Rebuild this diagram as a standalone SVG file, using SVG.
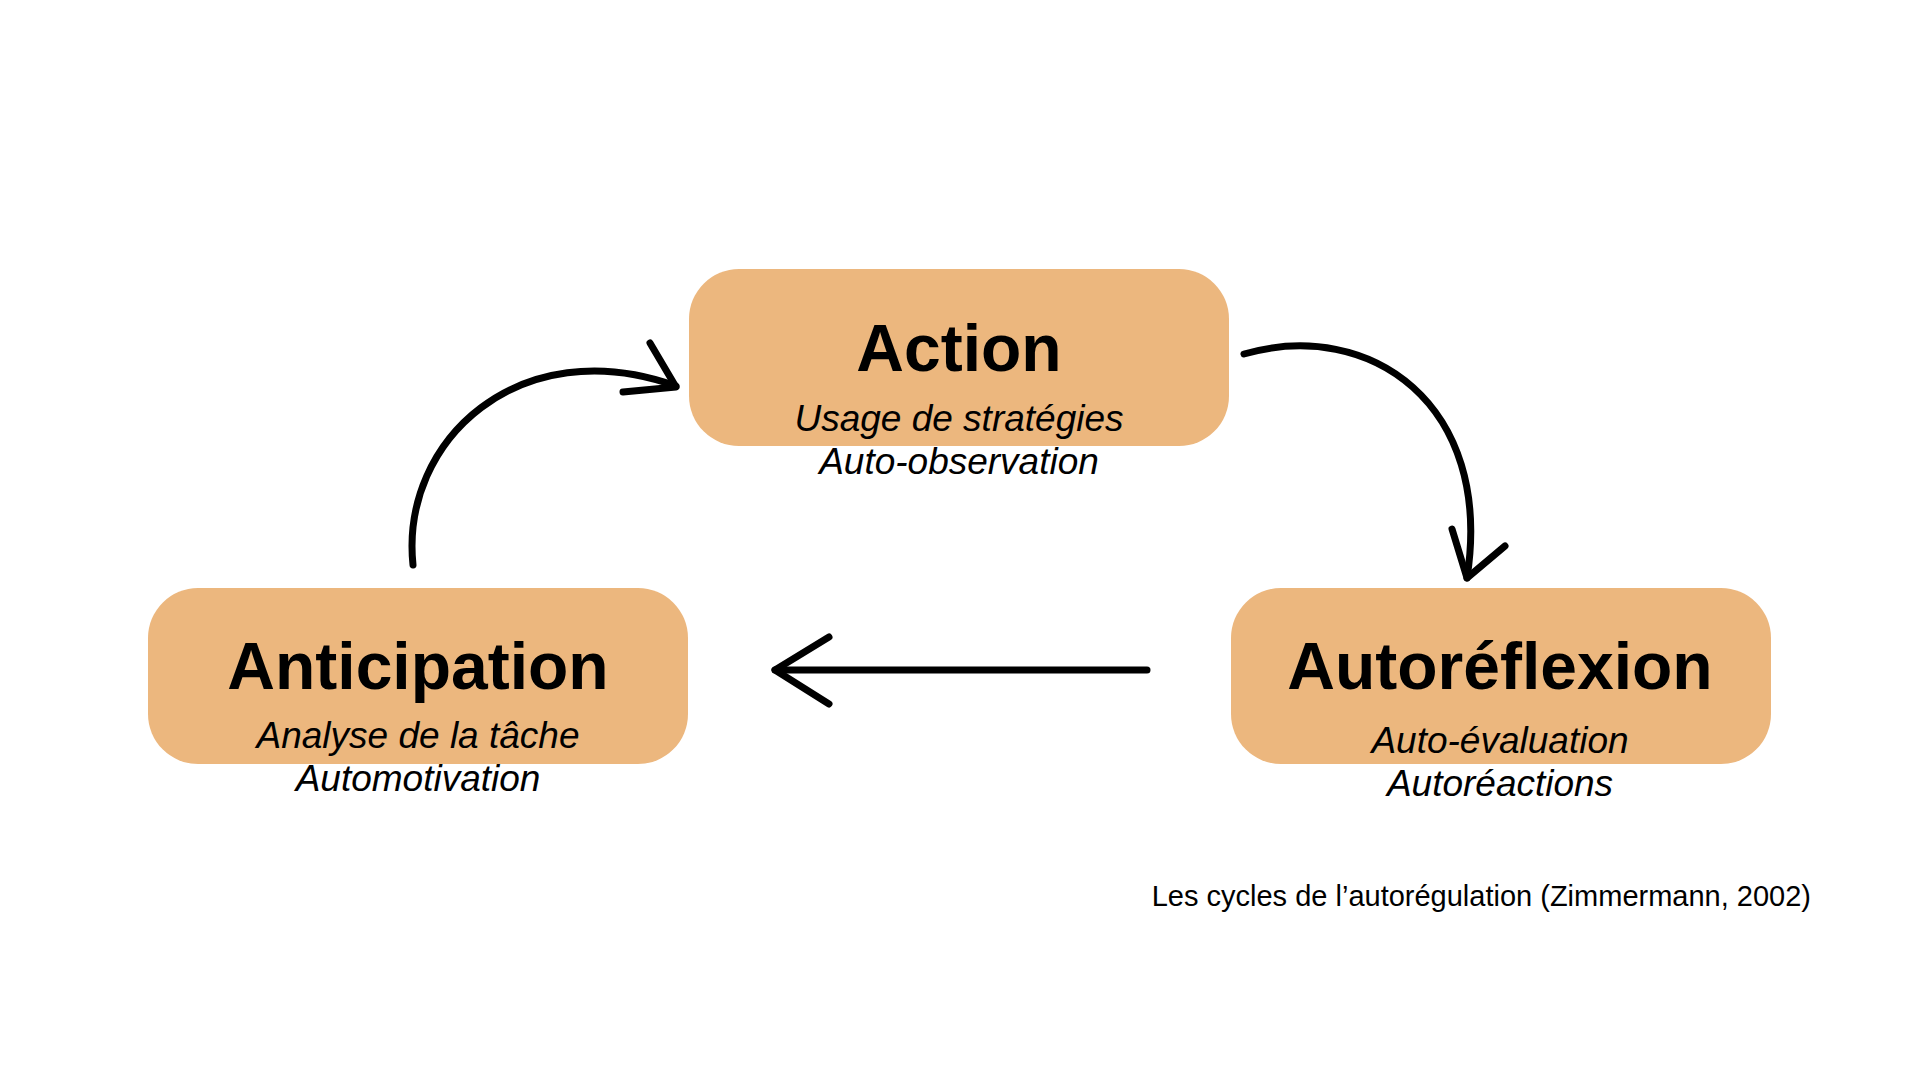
<svg xmlns="http://www.w3.org/2000/svg" width="1920" height="1080" viewBox="0 0 1920 1080">
<style>
.box{fill:#ECB77E}
.t{font-family:"Liberation Sans",Arial,sans-serif;font-weight:bold;font-size:66px;text-anchor:middle;fill:#000}
.s{font-family:"Liberation Sans",Arial,sans-serif;font-style:italic;font-size:37px;text-anchor:middle;fill:#000}
.c{fill:none;stroke:#000;stroke-width:7;stroke-linecap:round;stroke-linejoin:round}
</style>
<rect width="1920" height="1080" fill="#fff"/>
<g id="action"><rect class="box" x="689" y="269" width="540" height="177" rx="50"/>
<text class="t" x="959" y="371">Action</text>
<text class="s" x="959" y="431">Usage de stratégies</text>
<text class="s" x="959" y="474">Auto-observation</text></g>
<g id="anticipation"><rect class="box" x="148" y="588" width="540" height="176" rx="50"/>
<text class="t" x="418" y="689">Anticipation</text>
<text class="s" x="418" y="748">Analyse de la tâche</text>
<text class="s" x="418" y="791">Automotivation</text></g>
<g id="autoreflexion"><rect class="box" x="1231" y="588" width="540" height="176" rx="50"/>
<text class="t" x="1500" y="689">Autoréflexion</text>
<text class="s" x="1500" y="753">Auto-évaluation</text>
<text class="s" x="1500" y="796">Autoréactions</text></g>
<g id="connectors">
<path class="c" d="M413 565 C 400 440, 520 330, 676 386"/>
<path class="c" d="M650 343 L676 387 L623 392"/>
<path class="c" d="M1244 354 C 1370 318, 1494 404, 1467 578"/>
<path class="c" d="M1452 529 L1467 578 L1505 546"/>
<path class="c" d="M1147 670 L775 670"/>
<path class="c" d="M829 637 L775 670 L829 704"/>
</g>
<text x="1811" y="906" font-family="Liberation Sans,Arial,sans-serif" font-size="29" text-anchor="end">Les cycles de l’autorégulation (Zimmermann, 2002)</text>
</svg>
